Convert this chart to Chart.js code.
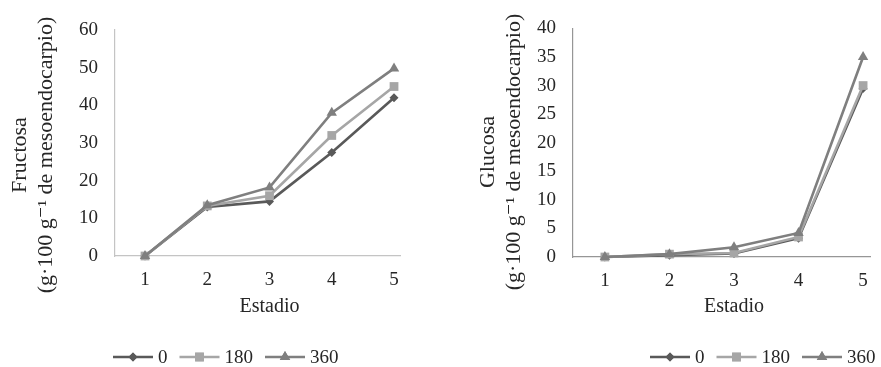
<!DOCTYPE html>
<html>
<head>
<meta charset="utf-8">
<script src="https://cdn.jsdelivr.net/npm/chart.js@4/dist/chart.umd.min.js"></script>
<style>
  body { margin: 0; background: #fff; }
  .wrap { position: absolute; top: 0; height: 367px; }
</style>
</head>
<body>
<div class="wrap" style="left:0;width:440px"><canvas id="fructosa"></canvas></div>
<div class="wrap" style="left:440px;width:441px"><canvas id="glucosa"></canvas></div>
<script>
// Estadio de madurez
const categories = [1, 2, 3, 4, 5];
const seriesNames = ['0', '180', '360'];

// Fructosa (g 100 g-1)
const fructosa0   = [0, 13.0, 14.5, 27.5, 42.0];
const fructosa180 = [0, 13.3, 16.0, 32.0, 45.0];
const fructosa360 = [0, 13.5, 18.2, 38.0, 49.8];

// Glucosa (g 100 g-1)
const glucosa0   = [0, 0.3, 0.6, 3.3, 29.5];
const glucosa180 = [0, 0.5, 0.7, 3.5, 30.0];
const glucosa360 = [0, 0.5, 1.7, 4.2, 35.0];

const fructosaTicks = [0, 10, 20, 30, 40, 50, 60];
const glucosaTicks = [0, 5, 10, 15, 20, 25, 30, 35, 40];

const FONT = '"Liberation Serif", "DejaVu Serif", serif';
const TEXT = '#262626';

const styles = [
    { color: '#595959', pointStyle: 'rectRot', radius: 4.5 },
    { color: '#a6a6a6', pointStyle: 'rect', radius: 6.2 },
    { color: '#7f7f7f', pointStyle: 'triangle', radius: 6 }
];

function makeDatasets(lists) {
    return lists.map((vals, i) => ({
        label: seriesNames[i],
        data: categories.map((c, j) => ({ x: c, y: vals[j] })),
        borderColor: styles[i].color,
        backgroundColor: styles[i].color,
        pointBackgroundColor: styles[i].color,
        pointBorderColor: styles[i].color,
        pointStyle: styles[i].pointStyle,
        pointRadius: styles[i].radius,
        pointBorderWidth: 0,
        borderWidth: 2.6,
        tension: 0,
        clip: false,
        order: 3 - i
    }));
}

// Axis titles and legend drawn on the canvas
const extras = {
    id: 'extras',
    afterDraw(chart, args, opts) {
        const ctx = chart.ctx;
        ctx.save();
        ctx.fillStyle = TEXT;
        ctx.textAlign = 'center';
        ctx.textBaseline = 'middle';

        ctx.save();
        ctx.font = '22px ' + FONT;
        ctx.translate(opts.yTitleX, opts.yTitleY);
        ctx.rotate(-Math.PI / 2);
        opts.yTitle.forEach((line, i) => ctx.fillText(line, 0, i * 26));
        ctx.restore();

        ctx.font = '20px ' + FONT;
        const xs = chart.scales.x;
        ctx.fillText('Estadio', xs.getPixelForValue(3), opts.xTitleY);

        // legend
        ctx.font = '19px ' + FONT;
        ctx.textAlign = 'left';
        let x = opts.legendX;
        const y = opts.legendY;
        chart.data.datasets.forEach(ds => {
            ctx.strokeStyle = ds.borderColor;
            ctx.lineWidth = 2.6;
            ctx.beginPath();
            ctx.moveTo(x, y);
            ctx.lineTo(x + 40, y);
            ctx.stroke();
            ctx.fillStyle = ds.pointBackgroundColor;
            Chart.helpers.drawPoint(ctx, {
                pointStyle: ds.pointStyle, radius: ds.pointRadius, rotation: 0, borderWidth: 0
            }, x + 20, y);
            ctx.fill();
            ctx.fillStyle = TEXT;
            ctx.fillText(ds.label, x + 45, y + 1);
            x += 45 + ctx.measureText(ds.label).width + 12;
        });
        ctx.restore();
    }
};

function makeChart(id, lists, yMax, ticks, xMin, xMax, axisColor, layout, extraOpts) {
    return new Chart(document.getElementById(id), {
        type: 'line',
        data: { datasets: makeDatasets(lists) },
        options: {
            responsive: true,
            maintainAspectRatio: false,
            animation: false,
            layout: { padding: layout },
            plugins: {
                legend: { display: false },
                tooltip: { enabled: false },
                extras: extraOpts
            },
            scales: {
                x: {
                    type: 'linear',
                    min: xMin,
                    max: xMax,
                    afterBuildTicks: s => { s.ticks = categories.map(v => ({ value: v })); },
                    afterFit: s => { s.height = 50; },
                    grid: { display: false, drawTicks: false },
                    border: { display: true, color: axisColor, width: 1.2 },
                    ticks: { color: TEXT, font: { family: FONT, size: 19 }, padding: 13 }
                },
                y: {
                    min: 0,
                    max: yMax,
                    afterBuildTicks: s => { s.ticks = ticks.map(v => ({ value: v })); },
                    afterFit: s => { s.width = layout.yWidth; },
                    grid: { display: false, drawTicks: false },
                    border: { display: true, color: axisColor, width: 1.2 },
                    ticks: { color: TEXT, font: { family: FONT, size: 19 }, padding: 17 }
                }
            }
        },
        plugins: [extras]
    });
}

makeChart('fructosa', [fructosa0, fructosa180, fructosa360], 60, fructosaTicks,
    0.518, 5.096, '#c4c4c4',
    { left: 0, top: 30, right: 40, bottom: 61, yWidth: 115 },
    { yTitle: ['Fructosa', '(g·100 g⁻¹ de mesoendocarpio)'], yTitleX: 20, yTitleY: 155,
      xTitleY: 307, legendX: 113, legendY: 357 });

makeChart('glucosa', [glucosa0, glucosa180, glucosa360], 40, glucosaTicks,
    0.506, 5.12, '#969696',
    { left: 0, top: 21, right: 0, bottom: 60, yWidth: 133 },
    { yTitle: ['Glucosa', '(g·100 g⁻¹ de mesoendocarpio)'], yTitleX: 48, yTitleY: 152,
      xTitleY: 307, legendX: 210, legendY: 357 });
</script>
</body>
</html>
